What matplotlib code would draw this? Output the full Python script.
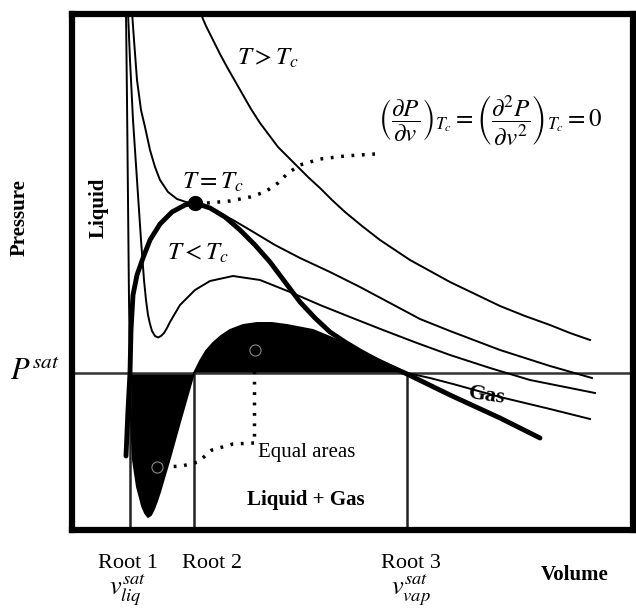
import matplotlib
matplotlib.use("Agg")
import matplotlib.pyplot as plt
import numpy as np

plt.rcParams['font.family'] = ['Liberation Serif', 'DejaVu Serif']
plt.rcParams['mathtext.fontset'] = 'stix'

# volume / pressure in arbitrary units (box spans 0..561 x 0..516)
v_hot = [128, 134, 141, 148, 155, 163, 171, 179, 188, 197, 206, 216, 226, 237, 248, 260,
         273, 290, 308, 323, 338, 358, 378, 403, 428, 453, 478, 498, 518]
p_hot = [518, 504, 490, 476, 463, 449, 435, 421, 407, 395, 383, 373, 363, 352, 342, 330,
         318, 304, 290, 280, 270, 259, 248, 236, 224, 214, 205, 197, 190]

v_crit = [60, 62, 65, 69, 73, 78, 83, 88, 96, 105, 114, 123, 133, 146, 161, 178,
          203, 228, 258, 288, 318, 348, 378, 428, 478, 520]
p_crit = [518, 490, 450, 420, 403, 380, 363, 350, 338, 331, 328, 327, 325, 318, 310, 300,
          285, 272, 258, 243, 227, 211, 199, 180, 164, 152]

v_cold = [56, 58, 61, 65, 69, 72, 74, 76, 78, 80, 83, 86, 89, 92, 95, 98, 108, 123,
          138, 161, 188, 218, 248, 278, 311, 345, 378, 418, 458, 523]
p_cold = [518, 470, 410, 350, 290, 250, 230, 215, 206, 199, 194, 192.5, 194, 197, 202, 208,
          225, 240, 249, 254, 250, 238, 225, 213, 200, 187, 175, 162, 150, 137]

v_loop = [54, 55, 56, 57, 58, 59, 61, 65, 68, 70, 73, 76, 79, 82, 85, 88, 98, 108, 116,
          122, 128, 134, 141, 149, 158, 171, 185, 200, 215, 241, 258, 281, 308, 335,
          358, 381, 428, 478, 518]
p_loop = [518, 430, 330, 230, 157, 110, 70, 43, 32, 24, 17, 13, 15, 21, 29, 38, 72, 108, 136,
          157, 169, 179, 187, 194, 200, 205, 207, 207, 205, 200, 193, 183, 170, 157,
          152, 146, 133, 121, 111]

v_dome = [54, 56, 58, 59, 61, 65, 71, 78, 88, 100, 113, 123, 138, 153, 168, 183,
          198, 213, 228, 243, 258, 273, 288, 308, 335, 378, 428, 468]
p_dome = [74, 120, 157, 200, 235, 255, 272, 290, 306, 318, 325, 327, 322, 313, 300, 285,
          268, 248, 228, 212, 198, 188, 179, 168, 156, 135, 112, 92]

p_sat = 157
roots = [58, 122, 335]
v_cp, p_cp = 123, 327

fig = plt.figure(figsize=(6.36, 6.10), dpi=100)
ax = fig.add_axes([72/636, 80/610, 561/636, 516/610])
ax.set_xlim(0, 561)
ax.set_ylim(0, 516)
ax.set_xticks([])
ax.set_yticks([])
for s in ax.spines.values():
    s.set_linewidth(4.5)

# equal-area region
va = np.array(v_loop)
pa = np.array(p_loop)
i0, i1 = v_loop.index(roots[0]), v_loop.index(roots[2])
ax.fill(va[i0:i1 + 1], pa[i0:i1 + 1], color='black', lw=0)

ax.axhline(p_sat, color='#333333', lw=1.8)
for r in roots:
    ax.plot([r, r], [0, p_sat], color='#222222', lw=1.8)

thin = dict(color='black', lw=1.4, solid_joinstyle='round')
ax.plot(v_hot, p_hot, **thin)
ax.plot(v_crit, p_crit, **thin)
ax.plot(v_cold, p_cold, **thin)
ax.plot(v_loop, p_loop, **thin)
ax.plot(v_dome, p_dome, color='black', lw=3.5, solid_capstyle='round',
        solid_joinstyle='round')
ax.plot(v_cp, p_cp, 'o', color='black', ms=10)

dot = dict(color='black', lw=2.5, linestyle=(0, (0.8, 2.2)))
ax.plot([135, 158, 178, 193, 206, 216, 228, 248, 273, 303],
        [327, 329, 333, 338, 347, 357, 365, 371, 374, 376], **dot)
ax.plot([182, 182], [180, 87], **dot)
ax.plot([182, 161, 140, 126, 110, 93], [87, 86, 80, 68, 64, 63], **dot)
ax.plot([183, 85], [180, 63], 'o', ms=8, mfc='none', mec='#888888', mew=0.8)

tk = dict(ha='center', va='center', color='black')
ax.text(196, 472, r'$T > T_c$', fontsize=18, **tk)
ax.text(141, 348, r'$T = T_c$', fontsize=18, **tk)
ax.text(126, 277, r'$T < T_c$', fontsize=18, **tk)
ax.text(418, 410, r'$\left(\dfrac{\partial P}{\partial v}\right)_{T_c}'
        r' = \left(\dfrac{\partial^2 P}{\partial v^2}\right)_{T_c} = 0$', fontsize=18, **tk)
ax.text(186, 77, 'Equal areas', fontsize=15, ha='left', va='center')
ax.text(234, 30, 'Liquid + Gas', fontsize=15, fontweight='bold', **tk)
ax.text(415, 134, 'Gas', fontsize=16, fontweight='bold', rotation=-8, **tk)
ax.text(27, 322, 'Liquid', fontsize=15, fontweight='bold', rotation=90, **tk)
ax.text(-52, 312, 'Pressure', fontsize=15, fontweight='bold', rotation=90, **tk)
ax.text(-37, 157, r'$P^{sat}$', fontsize=22, **tk)
ax.text(56, -33, 'Root 1', fontsize=16, **tk)
ax.text(140, -33, 'Root 2', fontsize=16, **tk)
ax.text(339, -33, 'Root 3', fontsize=16, **tk)
ax.text(56, -60, r'$v_{liq}^{sat}$', fontsize=19, **tk)
ax.text(339, -60, r'$v_{vap}^{sat}$', fontsize=19, **tk)
ax.text(503, -45, 'Volume', fontsize=15, fontweight='bold', **tk)

fig.savefig('out.png', dpi=100)
